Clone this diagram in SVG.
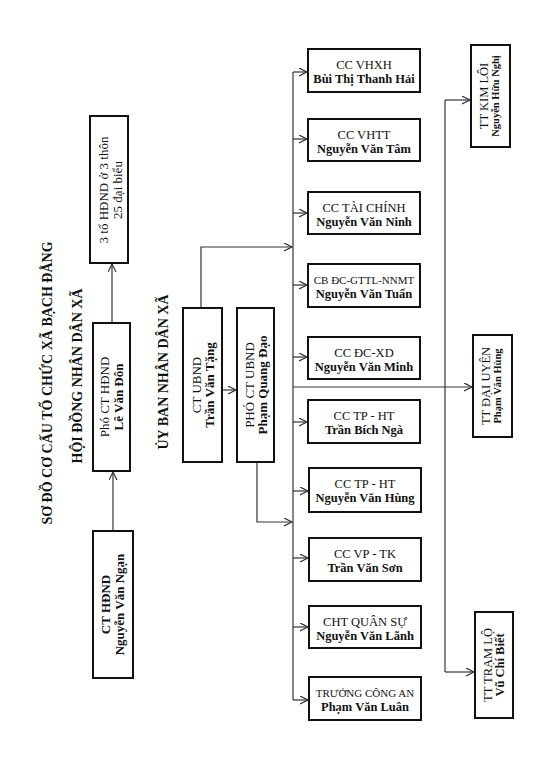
<svg xmlns="http://www.w3.org/2000/svg" width="540" height="768" viewBox="0 0 540 768">
<style>
text{font-family:"Liberation Serif","Times New Roman",serif;fill:#111}
.box{fill:#fff;stroke:#111;stroke-width:2}
.h{font-weight:bold;font-size:14px}
.t{font-size:12.5px}
.t11{font-size:11px}
.b{font-size:12.5px;font-weight:bold}
.tv{font-size:13px}
.bv{font-size:13px;font-weight:bold}
.ts{font-size:10.5px;font-weight:bold}
.c{fill:none;stroke:#333;stroke-width:1.2}
</style>
<defs>
<marker id="ar" markerUnits="userSpaceOnUse" markerWidth="10" markerHeight="10" refX="8" refY="4" orient="auto"><path d="M0,0 L8,4 L0,8" fill="none" stroke="#333" stroke-width="1.2"/></marker>
</defs>
<rect width="540" height="768" fill="#fff"/>
<g id="headings" text-anchor="middle">
<text class="h" transform="translate(52,383) rotate(-90)">SƠ ĐỒ CƠ CẤU TỔ CHỨC XÃ BẠCH ĐẰNG</text>
<text class="h" transform="translate(82,376) rotate(-90)">HỘI ĐỒNG NHÂN DÂN XÃ</text>
<text class="h" transform="translate(168,372) rotate(-90)">ỦY BAN NHÂN DÂN XÃ</text>
</g>
<g id="connectors">
<line class="c" x1="112" y1="323" x2="112" y2="264" marker-end="url(#ar)"/>
<line class="c" x1="113" y1="531" x2="113" y2="472" marker-end="url(#ar)"/>
<line class="c" x1="222" y1="390" x2="236" y2="390" marker-end="url(#ar)"/>
<polyline class="c" points="201,308 201,247 292,247" marker-end="url(#ar)"/>
<polyline class="c" points="257,462 257,522 292,522" marker-end="url(#ar)"/>
<line class="c" x1="293" y1="72" x2="293" y2="700"/>
<line class="c" x1="293" y1="72" x2="307" y2="72" marker-end="url(#ar)"/>
<line class="c" x1="293" y1="139" x2="307" y2="139" marker-end="url(#ar)"/>
<line class="c" x1="293" y1="213" x2="307" y2="213" marker-end="url(#ar)"/>
<line class="c" x1="293" y1="285" x2="307" y2="285" marker-end="url(#ar)"/>
<line class="c" x1="293" y1="357" x2="307" y2="357" marker-end="url(#ar)"/>
<line class="c" x1="293" y1="422" x2="307" y2="422" marker-end="url(#ar)"/>
<line class="c" x1="293" y1="491" x2="308" y2="491" marker-end="url(#ar)"/>
<line class="c" x1="293" y1="558" x2="308" y2="558" marker-end="url(#ar)"/>
<line class="c" x1="293" y1="627" x2="308" y2="627" marker-end="url(#ar)"/>
<line class="c" x1="293" y1="700" x2="308" y2="700" marker-end="url(#ar)"/>
<line class="c" x1="293" y1="387" x2="472" y2="387" marker-end="url(#ar)"/>
<line class="c" x1="445" y1="100" x2="445" y2="672"/>
<line class="c" x1="445" y1="100" x2="470" y2="100" marker-end="url(#ar)"/>
<line class="c" x1="445" y1="672" x2="474" y2="672" marker-end="url(#ar)"/>
</g>
<g id="to-hdnd">
<rect class="box" x="90" y="116" width="38" height="147"/>
<text class="tv" text-anchor="middle" transform="translate(109,190) rotate(-90)"><tspan x="0" y="-1">3 tổ HĐND ở 3 thôn</tspan><tspan x="0" y="13">25 đại biểu</tspan></text>
</g>
<g id="pho-ct-hdnd">
<rect class="box" x="93" y="323" width="37" height="148"/>
<text text-anchor="middle" transform="translate(111.5,397) rotate(-90)"><tspan class="tv" x="0" y="-3">Phó CT HĐND</tspan><tspan class="bv" x="0" y="11">Lê Văn Đôn</tspan></text>
</g>
<g id="ct-hdnd">
<rect class="box" x="93" y="531" width="40" height="147"/>
<text class="bv" text-anchor="middle" transform="translate(113,604.5) rotate(-90)"><tspan x="0" y="-3">CT HĐND</tspan><tspan x="0" y="11">Nguyễn Văn Ngạn</tspan></text>
</g>
<g id="ct-ubnd">
<rect class="box" x="183" y="308" width="39" height="154"/>
<text text-anchor="middle" transform="translate(202.5,385) rotate(-90)"><tspan class="tv" x="0" y="-2">CT UBND</tspan><tspan class="bv" x="0" y="11">Trần Văn Tặng</tspan></text>
</g>
<g id="pho-ct-ubnd">
<rect class="box" x="237" y="308" width="37" height="154"/>
<text text-anchor="middle" transform="translate(255.5,385) rotate(-90)"><tspan class="tv" x="0" y="-2">PHÓ CT UBND</tspan><tspan class="bv" x="0" y="11">Phạm Quang Đạo</tspan></text>
</g>
<g id="cc-vhxh">
<rect class="box" x="308" y="49" width="112" height="43"/>
<text text-anchor="middle"><tspan class="t" x="364" y="69">CC VHXH</tspan><tspan class="b" x="364" y="83">Bùi Thị Thanh Hải</tspan></text>
</g>
<g id="cc-vhtt">
<rect class="box" x="308" y="119" width="112" height="42"/>
<text text-anchor="middle"><tspan class="t" x="364" y="139">CC VHTT</tspan><tspan class="b" x="364" y="153">Nguyễn Văn Tâm</tspan></text>
</g>
<g id="cc-taichinh">
<rect class="box" x="308" y="192" width="112" height="42"/>
<text text-anchor="middle"><tspan class="t" x="364" y="212">CC TÀI CHÍNH</tspan><tspan class="b" x="364" y="226">Nguyễn Văn Ninh</tspan></text>
</g>
<g id="cb-dc-gttl">
<rect class="box" x="308" y="264" width="112" height="43"/>
<text text-anchor="middle"><tspan class="t11" x="364" y="284">CB ĐC-GTTL-NNMT</tspan><tspan class="b" x="364" y="298">Nguyễn Văn Tuấn</tspan></text>
</g>
<g id="cc-dc-xd">
<rect class="box" x="308" y="337" width="112" height="42"/>
<text text-anchor="middle"><tspan class="t" x="364" y="357">CC ĐC-XD</tspan><tspan class="b" x="364" y="371">Nguyễn Văn Minh</tspan></text>
</g>
<g id="cc-tp-ht-1">
<rect class="box" x="308" y="400" width="112" height="43"/>
<text text-anchor="middle"><tspan class="t" x="364" y="420">CC TP - HT</tspan><tspan class="b" x="364" y="434">Trần Bích Ngà</tspan></text>
</g>
<g id="cc-tp-ht-2">
<rect class="box" x="309" y="468" width="112" height="44"/>
<text text-anchor="middle"><tspan class="t" x="365" y="488">CC TP - HT</tspan><tspan class="b" x="365" y="502">Nguyễn Văn Hùng</tspan></text>
</g>
<g id="cc-vp-tk">
<rect class="box" x="309" y="538" width="112" height="43"/>
<text text-anchor="middle"><tspan class="t" x="365" y="558">CC VP - TK</tspan><tspan class="b" x="365" y="572">Trần Văn Sơn</tspan></text>
</g>
<g id="cht-quansu">
<rect class="box" x="309" y="606" width="112" height="42"/>
<text text-anchor="middle"><tspan class="t" x="365" y="626">CHT QUÂN SỰ</tspan><tspan class="b" x="365" y="640">Nguyễn Văn Lãnh</tspan></text>
</g>
<g id="truong-cong-an">
<rect class="box" x="309" y="677" width="112" height="43"/>
<text text-anchor="middle"><tspan class="t11" x="365" y="697">TRƯỞNG CÔNG AN</tspan><tspan class="b" x="365" y="711">Phạm Văn Luân</tspan></text>
</g>
<g id="tt-kimloi">
<rect class="box" x="471" y="45" width="39" height="102"/>
<text text-anchor="middle" transform="translate(490.5,96) rotate(-90)"><tspan class="t" x="0" y="-3">TT KIM LÔI</tspan><tspan class="ts" x="0" y="8">Nguyễn Hữu Nghị</tspan></text>
</g>
<g id="tt-daiuyen">
<rect class="box" x="473" y="335" width="39" height="102"/>
<text text-anchor="middle" transform="translate(492.5,386) rotate(-90)"><tspan class="t" x="0" y="-3">TT ĐẠI UYÊN</tspan><tspan class="ts" x="0" y="8">Phạm Văn Hùng</tspan></text>
</g>
<g id="tt-tramlo">
<rect class="box" x="475" y="612" width="38" height="106"/>
<text text-anchor="middle" transform="translate(494,665) rotate(-90)"><tspan class="t" x="0" y="-2">TT TRẠM LỘ</tspan><tspan class="b" x="0" y="10">Vũ Chí Biết</tspan></text>
</g>
</svg>
